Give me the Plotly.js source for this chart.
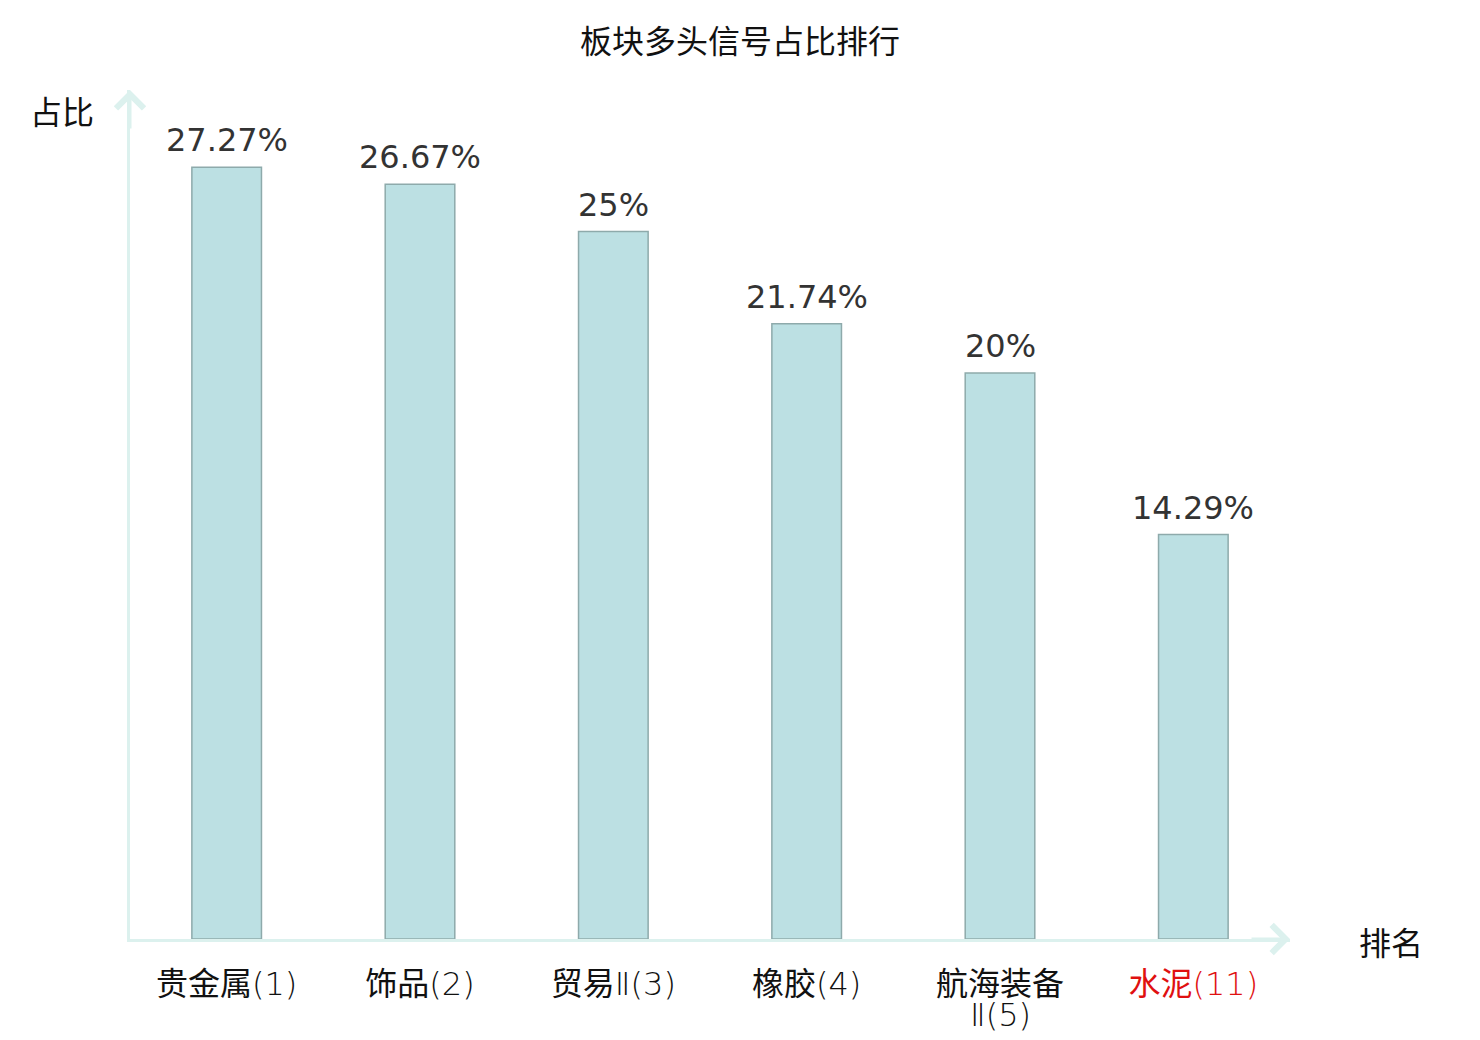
<!DOCTYPE html>
<html>
<head>
<meta charset="utf-8">
<script src="https://cdn.plot.ly/plotly-3.0.1.min.js"></script>
<style>
  html, body { margin: 0; padding: 0; background: #fff; }
  #chart { width: 1480px; height: 1040px; }
</style>
</head>
<body>
<div id="chart"></div>
<script>
// sector names with their rank in brackets (<br> = wrapped label)
const sectors = ['贵金属(1)', '饰品(2)', '贸易Ⅱ(3)', '橡胶(4)', '航海装备<br>Ⅱ(5)', '水泥(11)'];
// share of long signals, percent
const shares = [27.27, 26.67, 25, 21.74, 20, 14.29];
// which tick label is highlighted red
const highlight = [false, false, false, false, false, true];

const cjk = 'Noto Sans CJK SC, DejaVu Sans, sans-serif';
const tickFamily = 'DejaVu Sans ExtraLight, DejaVu Sans Light, Noto Sans CJK SC, sans-serif';
const axisColor = '#dcf1ee';
const tickSize = 32;

const colorize = (s, i) => highlight[i] ? '<span style="color:#e01010">' + s + '</span>' : s;
// first line goes on the axis tick, the second line (if any) is an annotation
const tickText = sectors.map((s, i) => colorize(s.split('<br>')[0], i));
const secondLines = [];
sectors.forEach((s, i) => {
  const parts = s.split('<br>');
  if (parts.length > 1) {
    secondLines.push({
      x: i, y: 0, xref: 'x', yref: 'y', text: colorize(parts[1], i),
      showarrow: false, yanchor: 'middle', yshift: -76,
      font: { family: tickFamily, size: tickSize, color: '#111111' }
    });
  }
});

const barTrace = {
  type: 'bar',
  x: sectors.map((s, i) => i),
  y: shares,
  marker: { color: '#bce0e3', line: { color: '#8eaaab', width: 1.5 } },
  hoverinfo: 'skip'
};

// value labels above bars
const valueLabels = shares.map((v, i) => ({
  x: i, y: v, xref: 'x', yref: 'y',
  text: v + '%',
  showarrow: false,
  yanchor: 'bottom',
  yshift: 6,
  font: { family: 'DejaVu Sans, sans-serif', size: 32, color: '#333333' }
}));

// arrow heads on the axes
const arrows = [
  { x: 1, y: 0, xref: 'paper', yref: 'paper', ax: -40, ay: 0 },
  { x: 0, y: 1, xref: 'paper', yref: 'paper', ax: 0, ay: 40 }
].map(a => Object.assign(a, {
  axref: 'pixel', ayref: 'pixel', text: '', showarrow: true,
  arrowhead: 4, arrowsize: 1.8, arrowwidth: 3, arrowcolor: axisColor
}));

const plotL = 130, plotR = 1290, plotT = 90, plotB = 939;

// axis names, placed by page pixels
const axisNames = [
  { px: 62, py: 110, text: '占比' },
  { px: 1391, py: 941, text: '排名' }
].map(a => ({
  x: (a.px - plotL) / (plotR - plotL), y: (plotB - a.py) / (plotB - plotT),
  xref: 'paper', yref: 'paper',
  text: a.text, showarrow: false, xanchor: 'center', yanchor: 'middle',
  font: { family: cjk, size: 32, color: '#111111' }
}));

const layout = {
  width: 1480,
  height: 1040,
  margin: { l: plotL, r: 1480 - plotR, t: plotT, b: 1040 - plotB },
  paper_bgcolor: '#ffffff',
  plot_bgcolor: '#ffffff',
  title: {
    text: '板块多头信号占比排行',
    x: 0.5, xref: 'container', xanchor: 'center',
    y: 1 - 42 / 1040, yref: 'container', yanchor: 'middle',
    font: { family: cjk, size: 32, color: '#111111' }
  },
  bargap: 0.64,
  showlegend: false,
  xaxis: {
    range: [-0.5, 5.5],
    tickvals: sectors.map((s, i) => i),
    ticktext: tickText,
    ticks: 'outside', ticklen: 15, tickcolor: 'rgba(0,0,0,0)',
    tickfont: { family: tickFamily, size: tickSize, color: '#111111' },
    showline: true, linecolor: axisColor, linewidth: 3,
    showgrid: false, zeroline: false, fixedrange: true
  },
  yaxis: {
    range: [0, 30],
    showticklabels: false, ticks: '',
    showline: true, linecolor: axisColor, linewidth: 3,
    showgrid: false, zeroline: false, fixedrange: true
  },
  annotations: valueLabels.concat(secondLines, arrows, axisNames)
};

Plotly.newPlot('chart', [barTrace], layout, { displayModeBar: false, staticPlot: true });
</script>
</body>
</html>
